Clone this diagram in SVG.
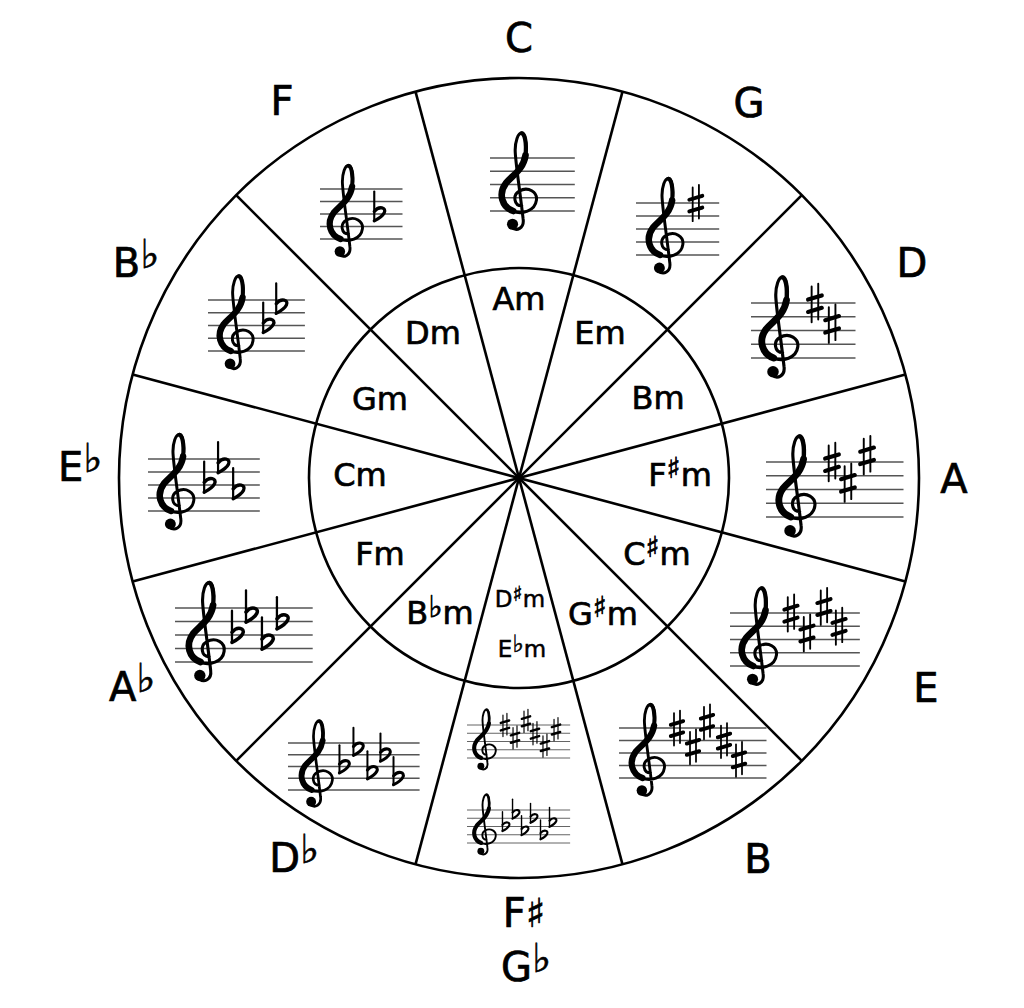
<svg xmlns="http://www.w3.org/2000/svg" xmlns:xlink="http://www.w3.org/1999/xlink" width="1024" height="1008" viewBox="0 0 1024 1008">
<style>
.ln{stroke:#000;stroke-width:2.6;fill:none}
.st{stroke:#555;stroke-width:1.1;fill:none}
.cl{stroke:#000;fill:none;stroke-linecap:round}
.lbl{font-family:"DejaVu Sans","Liberation Sans",sans-serif;font-size:40px;text-anchor:middle;fill:#000;stroke:#000;stroke-width:0.7px}
.in{font-size:32px}
.sm{font-size:23px;stroke-width:0.5px}
.acc{font-family:"DejaVu Sans",sans-serif;font-weight:bold}
</style>
<defs>
<g id="clef">
<path class="cl" stroke-width="2.3" d="M17,36 C11,36 10,28 15,25 C22,21 29,26 28,32 C27,40 17,43 10,40 C2,37 -1,27 5,19 C10,13 19,8 20,-3 C21,-12 19,-19 17,-19 C14,-19 12,-12 12,-6 C12,2 15,20 18,46 C19,53 13,56 9,52"/>
<path class="cl" stroke-width="5" d="M10.5,40 C2,37 -1,27 5,19 C10,13 18,9 19.8,-2"/>
<path class="cl" stroke-width="3.2" d="M19.8,-2 C20.8,-12 19,-18.5 17,-18.5"/>
<circle cx="10" cy="50" r="4.2" fill="#000"/>
</g>
<g id="sh" class="cl" stroke-linecap="butt">
<path stroke-width="1.4" d="M-2.4,-12V14M2.4,-14V12"/>
<path stroke-width="3" d="M-5,-2.5L5,-5.5M-5,6.5L5,3.5"/>
</g>
<g id="fl" class="cl" stroke-linecap="butt">
<path stroke-width="1.7" d="M-3,-18V5.5"/>
<path stroke-width="2.6" d="M-3,-2C1,-7 7,-5 5,-1C3.5,2 0,4 -3,5.5"/>
</g>
</defs>
<rect width="1024" height="1008" fill="#fff"/>

<g id="wheel">
<circle class="ln" cx="519" cy="478" r="400"/>
<circle class="ln" cx="519" cy="478" r="210"/>
</g>
<g id="connectors" class="ln">
<line x1="622.5" y1="91.6" x2="415.5" y2="864.4"/>
<line x1="801.8" y1="195.2" x2="236.2" y2="760.8"/>
<line x1="905.4" y1="374.5" x2="132.6" y2="581.5"/>
<line x1="905.4" y1="581.5" x2="132.6" y2="374.5"/>
<line x1="801.8" y1="760.8" x2="236.2" y2="195.2"/>
<line x1="622.5" y1="864.4" x2="415.5" y2="91.6"/>
</g>

<g id="key-C" transform="translate(490,158) scale(1.325)">
<path class="st" d="M0,0H64M0,10H64M0,20H64M0,30H64M0,40H64"/>
<use href="#clef" x="7"/>
</g>
<g id="key-G" transform="translate(636,203) scale(1.3)">
<path class="st" d="M0,0H64M0,10H64M0,20H64M0,30H64M0,40H64"/>
<use href="#clef" x="8"/>
<use href="#sh" x="46" y="0"/>
</g>
<g id="key-D" transform="translate(751,303) scale(1.375)">
<path class="st" d="M0,0H76M0,10H76M0,20H76M0,30H76M0,40H76"/>
<use href="#clef" x="6"/>
<use href="#sh" x="46.5" y="0"/>
<use href="#sh" x="59" y="15"/>
</g>
<g id="key-A" transform="translate(766,462) scale(1.375)">
<path class="st" d="M0,0H100M0,10H100M0,20H100M0,30H100M0,40H100"/>
<use href="#clef" x="7.5"/>
<use href="#sh" x="48" y="0"/>
<use href="#sh" x="59.6" y="15"/>
<use href="#sh" x="73.5" y="-5"/>
</g>
<g id="key-E" transform="translate(730,613) scale(1.325)">
<path class="st" d="M0,0H98M0,10H98M0,20H98M0,30H98M0,40H98"/>
<use href="#clef" x="7"/>
<use href="#sh" x="46" y="0"/>
<use href="#sh" x="58.1" y="15"/>
<use href="#sh" x="70.9" y="-5"/>
<use href="#sh" x="82.3" y="10"/>
</g>
<g id="key-B" transform="translate(619,728) scale(1.25)">
<path class="st" d="M0,0H118M0,10H118M0,20H118M0,30H118M0,40H118"/>
<use href="#clef" x="8.3"/>
<use href="#sh" x="46.4" y="0"/>
<use href="#sh" x="59.2" y="15"/>
<use href="#sh" x="70.4" y="-5"/>
<use href="#sh" x="84" y="10"/>
<use href="#sh" x="96" y="25"/>
</g>
<g id="key-Fsharp" transform="translate(467,725) scale(0.825)">
<path class="st" d="M0,0H125M0,10H125M0,20H125M0,30H125M0,40H125"/>
<use href="#clef" x="6.8"/>
<use href="#sh" x="46" y="0"/>
<use href="#sh" x="58.2" y="15"/>
<use href="#sh" x="71.5" y="-5"/>
<use href="#sh" x="82.4" y="10"/>
<use href="#sh" x="94.5" y="25"/>
<use href="#sh" x="107.9" y="5"/>
</g>
<g id="key-Gflat" transform="translate(467,810) scale(0.825)">
<path class="st" d="M0,0H125M0,10H125M0,20H125M0,30H125M0,40H125"/>
<use href="#clef" x="6.8"/>
<use href="#fl" x="46" y="20"/>
<use href="#fl" x="58.2" y="5"/>
<use href="#fl" x="69.1" y="25"/>
<use href="#fl" x="80" y="10"/>
<use href="#fl" x="92.1" y="30"/>
<use href="#fl" x="103" y="15"/>
</g>
<g id="key-Dflat" transform="translate(288,743) scale(1.175)">
<path class="st" d="M0,0H112M0,10H112M0,20H112M0,30H112M0,40H112"/>
<use href="#clef" x="9.7"/>
<use href="#fl" x="46.8" y="20"/>
<use href="#fl" x="58.7" y="5"/>
<use href="#fl" x="70.6" y="25"/>
<use href="#fl" x="81.7" y="10"/>
<use href="#fl" x="92.8" y="30"/>
</g>
<g id="key-Aflat" transform="translate(175,608) scale(1.35)">
<path class="st" d="M0,0H102M0,10H102M0,20H102M0,30H102M0,40H102"/>
<use href="#clef" x="8.4"/>
<use href="#fl" x="45.2" y="20"/>
<use href="#fl" x="55.6" y="5"/>
<use href="#fl" x="67.4" y="25"/>
<use href="#fl" x="78.5" y="10"/>
</g>
<g id="key-Eflat" transform="translate(148,459) scale(1.3)">
<path class="st" d="M0,0H86M0,10H86M0,20H86M0,30H86M0,40H86"/>
<use href="#clef" x="7.2"/>
<use href="#fl" x="46.2" y="20"/>
<use href="#fl" x="56.9" y="5"/>
<use href="#fl" x="68.5" y="25"/>
</g>
<g id="key-Bflat" transform="translate(208,300) scale(1.275)">
<path class="st" d="M0,0H76M0,10H76M0,20H76M0,30H76M0,40H76"/>
<use href="#clef" x="7.3"/>
<use href="#fl" x="46.3" y="20"/>
<use href="#fl" x="56.5" y="5"/>
</g>
<g id="key-F" transform="translate(320,189) scale(1.25)">
<path class="st" d="M0,0H66M0,10H66M0,20H66M0,30H66M0,40H66"/>
<use href="#clef" x="5.9"/>
<use href="#fl" x="46.4" y="20"/>
</g>

<g id="major-labels" class="lbl">
<text id="lbl-C" x="519" y="52">C</text>
<text id="lbl-G" x="749" y="117">G</text>
<text id="lbl-D" x="912" y="277">D</text>
<text id="lbl-A" x="954" y="493">A</text>
<text id="lbl-E" x="926" y="702">E</text>
<text id="lbl-B" x="758" y="873">B</text>
<text id="lbl-Fsharp" x="524" y="927">F<tspan class="acc">♯</tspan></text>
<text id="lbl-Gflat" x="526" y="981">G<tspan class="acc" font-size="40" dy="-9">♭</tspan></text>
<text id="lbl-Dflat" x="294" y="872">D<tspan class="acc" font-size="40" dy="-9">♭</tspan></text>
<text id="lbl-Aflat" x="132" y="701">A<tspan class="acc" font-size="40" dy="-9">♭</tspan></text>
<text id="lbl-Eflat" x="80" y="481">E<tspan class="acc" font-size="40" dy="-9">♭</tspan></text>
<text id="lbl-Bflat" x="136" y="277">B<tspan class="acc" font-size="40" dy="-9">♭</tspan></text>
<text id="lbl-F" x="282" y="115">F</text>
</g>

<g id="minor-labels" class="lbl in">
<text id="lbl-Am" x="519" y="310">Am</text>
<text id="lbl-Em" x="600" y="344">Em</text>
<text id="lbl-Bm" x="658" y="409">Bm</text>
<text id="lbl-Fsharpm" x="680" y="486">F<tspan class="acc" font-size="29" dy="-8">♯</tspan><tspan dy="8">m</tspan></text>
<text id="lbl-Csharpm" x="657" y="565">C<tspan class="acc" font-size="29" dy="-8">♯</tspan><tspan dy="8">m</tspan></text>
<text id="lbl-Gsharpm" x="603" y="625">G<tspan class="acc" font-size="29" dy="-8">♯</tspan><tspan dy="8">m</tspan></text>
<text id="lbl-Dsharpm" class="sm" x="520" y="607">D<tspan class="acc" font-size="21" dy="-6">♯</tspan><tspan dy="6">m</tspan></text>
<text id="lbl-Eflatm" class="sm" x="522" y="657">E<tspan class="acc" font-size="24" dy="-5">♭</tspan><tspan dy="5">m</tspan></text>
<text id="lbl-Bflatm" x="440" y="624">B<tspan class="acc" font-size="30" dy="-7">♭</tspan><tspan dy="7">m</tspan></text>
<text id="lbl-Fm" x="380" y="565">Fm</text>
<text id="lbl-Cm" x="360" y="486">Cm</text>
<text id="lbl-Gm" x="380" y="410">Gm</text>
<text id="lbl-Dm" x="433" y="344">Dm</text>
</g>
</svg>
